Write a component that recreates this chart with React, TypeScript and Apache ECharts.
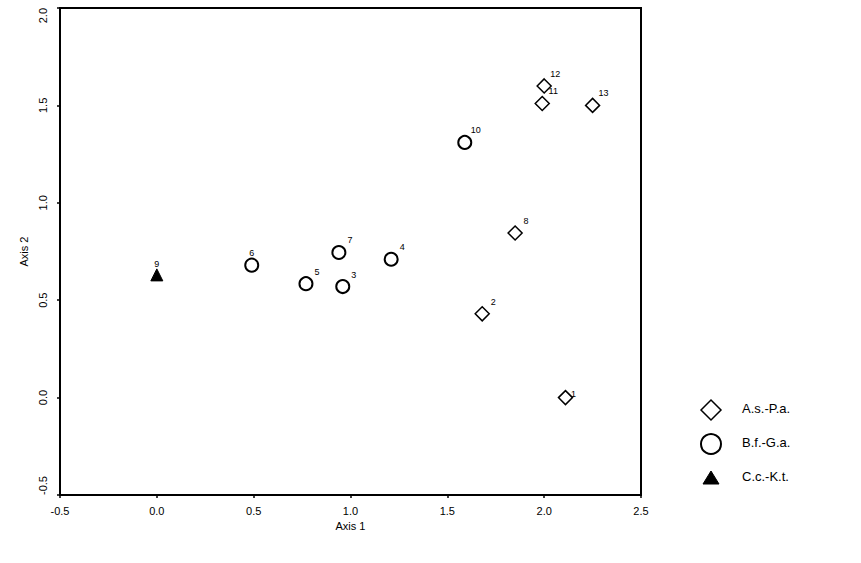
import React, { useEffect, useRef } from "react";
import * as echarts from "echarts";

// Group A.s.-P.a. (diamonds)
const groupAIds = ["1", "2", "8", "11", "12", "13"];
const groupAX = [2.11, 1.68, 1.85, 1.99, 2.0, 2.25];
const groupAY = [0.0, 0.43, 0.845, 1.51, 1.6, 1.5];

// Group B.f.-G.a. (circles)
const groupBIds = ["3", "4", "5", "6", "7", "10"];
const groupBX = [0.96, 1.21, 0.77, 0.49, 0.94, 1.59];
const groupBY = [0.57, 0.71, 0.585, 0.68, 0.745, 1.31];

// Group C.c.-K.t. (triangle)
const groupCIds = ["9"];
const groupCX = [0.0];
const groupCY = [0.63];

const seriesNames = ["A.s.-P.a.", "B.f.-G.a.", "C.c.-K.t."];
const axisNames = ["Axis 1", "Axis 2"];
const xRange = [-0.5, 2.5];
const yRange = [-0.5, 2.0];
const tickStep = 0.5;

const FONT = "'Liberation Sans', Arial, sans-serif";

// label placement per point id (style, not data)
const labelOffsets: Record<string, [number, number]> = {
  "6": [0, -12],
  "9": [0, -11],
  "1": [8, -4],
};
const defaultOffset: [number, number] = [11, -12];

function buildData(ids: string[], xs: number[], ys: number[]) {
  return ids.map((id, i) => {
    const off = labelOffsets[id] || defaultOffset;
    return {
      value: [xs[i], ys[i]],
      name: id,
      label: {
        show: true,
        formatter: id,
        position: "inside",
        offset: off,
        fontSize: 9,
        fontFamily: FONT,
        color: "#000",
      },
    };
  });
}

export default function App() {
  const ref = useRef<HTMLDivElement>(null);
  useEffect(() => {
    if (!ref.current) return;
    const chart = echarts.init(ref.current, null, { renderer: "svg" });
    const axisCommon = {
      type: "value" as const,
      interval: tickStep,
      nameLocation: "middle" as const,
      nameTextStyle: { fontSize: 11, fontFamily: FONT, color: "#000" },
      axisLine: { show: true, onZero: false, lineStyle: { color: "#000", width: 2 } },
      axisTick: { show: true, inside: false, length: 3, lineStyle: { color: "#000", width: 1.5 } },
      axisLabel: {
        fontSize: 11,
        fontFamily: FONT,
        color: "#000",
        formatter: (v: number) => v.toFixed(1),
      },
      splitLine: { show: false },
    };
    // legend drawn as graphic
    const lx = 711;
    const ly = [410, 444, 478];
    const tx = 742;
    const textStyle = { fontSize: 13, fontFamily: FONT, fill: "#000" };
    chart.setOption({
      animation: false,
      backgroundColor: "#fff",
      grid: {
        left: 60,
        right: 220,
        top: 8,
        bottom: 68,
        outerBoundsMode: "none",
        containLabel: false,
        show: true,
        borderColor: "#000",
        borderWidth: 2,
        backgroundColor: "transparent",
      },
      xAxis: {
        ...axisCommon,
        min: xRange[0],
        max: xRange[1],
        name: axisNames[0],
        nameGap: 22,
        axisLabel: { ...axisCommon.axisLabel, margin: 10 },
      },
      yAxis: {
        ...axisCommon,
        min: yRange[0],
        max: yRange[1],
        name: axisNames[1],
        nameGap: 22,
        nameRotate: 90,
        axisLabel: {
          ...axisCommon.axisLabel,
          rotate: 90,
          margin: 12,
          alignMinLabel: "left",
          alignMaxLabel: "right",
        },
      },
      graphic: [
        {
          type: "polygon",
          shape: { points: [[lx - 10, ly[0]], [lx, ly[0] - 10], [lx + 10, ly[0]], [lx, ly[0] + 10]] },
          style: { fill: "#fff", stroke: "#000", lineWidth: 1.5 },
        },
        { type: "text", left: tx, top: ly[0] - 8, style: { ...textStyle, text: seriesNames[0] } },
        {
          type: "circle",
          shape: { cx: lx, cy: ly[1], r: 10 },
          style: { fill: "#fff", stroke: "#000", lineWidth: 2 },
        },
        { type: "text", left: tx, top: ly[1] - 8, style: { ...textStyle, text: seriesNames[1] } },
        {
          type: "polygon",
          shape: { points: [[lx, ly[2] - 7], [lx + 8, ly[2] + 6], [lx - 8, ly[2] + 6]] },
          style: { fill: "#000", stroke: "#000", lineWidth: 1 },
        },
        { type: "text", left: tx, top: ly[2] - 8, style: { ...textStyle, text: seriesNames[2] } },
      ],
      series: [
        {
          name: seriesNames[0],
          type: "scatter",
          symbol: "diamond",
          symbolSize: 14,
          itemStyle: { color: "#fff", borderColor: "#000", borderWidth: 1.5, opacity: 1 },
          data: buildData(groupAIds, groupAX, groupAY),
        },
        {
          name: seriesNames[1],
          type: "scatter",
          symbol: "circle",
          symbolSize: 13,
          itemStyle: { color: "#fff", borderColor: "#000", borderWidth: 2, opacity: 1 },
          data: buildData(groupBIds, groupBX, groupBY),
        },
        {
          name: seriesNames[2],
          type: "scatter",
          symbol: "triangle",
          symbolSize: 12,
          itemStyle: { color: "#000", borderColor: "#000", borderWidth: 1, opacity: 1 },
          data: buildData(groupCIds, groupCX, groupCY),
        },
      ],
    });
    return () => chart.dispose();
  }, []);
  return (
    <div
      ref={ref}
      style={{ position: "absolute", left: 0, top: 0, width: 861, height: 563 }}
    />
  );
}
